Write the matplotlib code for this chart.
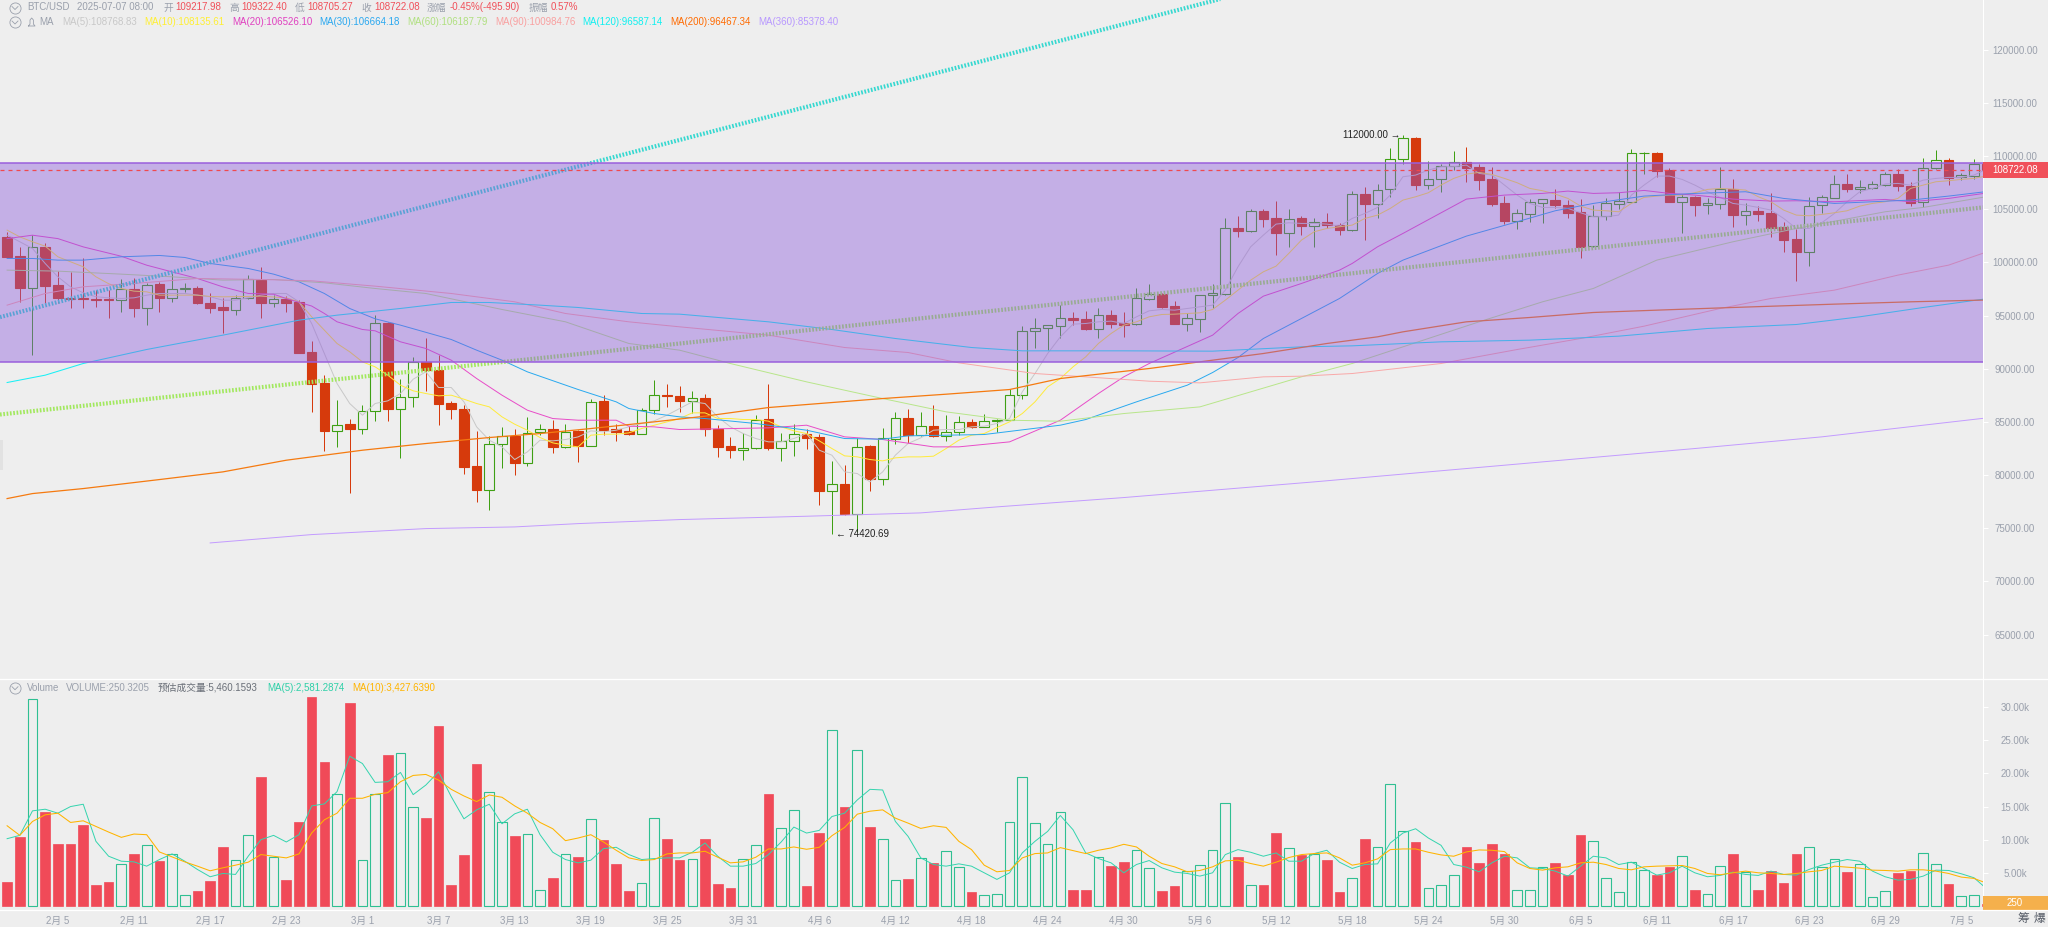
import matplotlib
matplotlib.use('Agg')
import matplotlib.pyplot as plt
from matplotlib.lines import Line2D
from matplotlib.patches import Rectangle

plt.rcParams['font.family'] = ['Liberation Sans', 'Noto Sans CJK SC', 'DejaVu Sans']

# one row per ten days, 2025-02-01 to 2025-07-07
opens = [102410, 100590, 97610, 101470, 97860, 96610, 96610, 96520, 96520, 96500,
         97455, 95760, 97960, 96610, 97500, 97580, 96170, 95790, 95570, 96610,
         98330, 96140, 96550, 96300, 91560, 88645, 84190, 84790, 84320, 86075,
         94320, 86260, 87300, 90680, 89930, 86795, 86260, 80840, 78640, 82970,
         83720, 81150, 84035, 84380, 82650, 84130, 82750, 86950, 84290, 84130,
         83910, 86170, 87580, 87485, 86980, 87298, 84382, 82720, 82406, 82594,
         85260, 82594, 83221, 83911, 83566, 78486, 79207, 76385, 82720, 79677,
         83441, 85354, 83786, 84664, 83723, 84099, 85040, 84570, 85103, 85228,
         87578, 93505, 93787, 94037, 94728, 94634, 93756, 95073, 94290, 94163,
         96546, 97017, 95857, 94226, 94696, 96892, 97049, 103226, 102913, 104794,
         104136, 102787, 104136, 103446, 103760, 103477, 103070, 106425, 105516, 106864,
         109687, 111662, 107303, 107805, 109028, 109404, 108965, 107805, 105547, 103916,
         104575, 105609, 105892, 105390, 104700, 101500, 104355, 105516, 105704, 110250,
         110251, 108683, 105704, 106112, 105359, 105516, 106864, 104450, 104857, 104606,
         103289, 102160, 100937, 105359, 106080, 107366, 106950, 107021, 107272, 108338,
         107178, 105641, 108840, 109624, 107993, 108150, 109218]
highs = [102880, 101470, 102570, 101780, 99210, 99120, 100370, 97390, 97390, 98400,
         98490, 98080, 98200, 98960, 98020, 97770, 97080, 96610, 96920, 98800,
         99590, 96920, 96800, 96500, 92630, 89400, 87050, 85230, 86640, 95040,
         94420, 89020, 91060, 92850, 91280, 86950, 86575, 84130, 83690, 84540,
         84380, 85420, 84760, 85160, 84850, 84230, 87140, 87580, 84850, 84600,
         86270, 88900, 88610, 88360, 87890, 87612, 84695, 83598, 83974, 85636,
         88613, 84005, 84789, 84319, 83900, 81308, 80932, 83535, 82800, 84413,
         85981, 86200, 85918, 86577, 85636, 85573, 85250, 85730, 85320, 88140,
         94006, 94728, 94070, 95982, 95292, 95417, 95668, 95512, 95320, 97550,
         97958, 97080, 96327, 95260, 96950, 98000, 104136, 104355, 104983, 104983,
         105766, 105014, 104350, 104130, 104605, 103720, 106707, 107115, 107366, 110753,
         111944, 111756, 109498, 109300, 110471, 110815, 109300, 108934, 106237, 104983,
         105923, 105980, 106864, 105890, 105986, 105390, 106017, 106645, 110627, 110380,
         110340, 108840, 106420, 106230, 106080, 108965, 107805, 105547, 105296, 106488,
         103800, 103101, 106112, 106331, 108181, 108307, 107742, 107650, 108530, 108746,
         107523, 109843, 110565, 109812, 108370, 109718, 109322]
lows = [100500, 96300, 91280, 96140, 96140, 95760, 95670, 95820, 94820, 95350,
        94880, 94160, 95350, 96300, 97240, 96080, 95260, 93410, 95040, 96550,
        94820, 95820, 95350, 91440, 85950, 82280, 82655, 78330, 83850, 85100,
        85100, 81590, 86420, 87930, 84700, 85290, 80085, 77510, 76730, 80710,
        80000, 80870, 83750, 82090, 82550, 81210, 82700, 83810, 83220, 83810,
        83850, 85700, 86360, 85920, 85860, 83660, 81716, 81653, 81402, 82500,
        82343, 81340, 81810, 82437, 77169, 74421, 76260, 74660, 78517, 79082,
        82908, 83033, 83720, 83630, 83221, 83786, 84450, 84510, 84068, 85150,
        87200, 91937, 91750, 92940, 94100, 93690, 92910, 93850, 93003, 94100,
        96480, 95760, 94190, 93567, 93442, 95670, 96980, 102348, 102850, 103352,
        100718, 101470, 102600, 101470, 103195, 102600, 103000, 102100, 104198, 106174,
        109216, 106801, 106895, 106645, 108683, 107523, 106801, 105296, 103603, 103132,
        103822, 103697, 105077, 104198, 100373, 101440, 103979, 104983, 105640, 108307,
        108056, 105640, 102787, 104355, 104512, 104983, 103352, 103509, 103885, 102411,
        100937, 98240, 99683, 104669, 106020, 106613, 106519, 106950, 107200, 106707,
        105296, 105171, 108770, 107272, 107742, 107837, 108705]
closes = [100530, 97610, 101470, 97800, 96610, 96520, 96520, 96450, 96450, 97455,
          95730, 97830, 96610, 97520, 97580, 96140, 95730, 95570, 96610, 98400,
          96140, 96550, 96230, 91500, 88614, 84160, 84757, 84350, 86075, 94260,
          86230, 87300, 90680, 89930, 86730, 86230, 80774, 78580, 82970, 83720,
          81150, 84000, 84380, 82650, 84100, 82750, 86920, 84220, 84035, 83880,
          86170, 87580, 87420, 86980, 87265, 84382, 82657, 82406, 82594, 85228,
          82563, 83221, 83911, 83503, 78486, 79176, 76322, 82657, 79615, 83472,
          85354, 83786, 84664, 83692, 84099, 85009, 84507, 85103, 85228, 87578,
          93505, 93787, 94070, 94728, 94600, 93756, 95073, 94195, 94132, 96610,
          97017, 95825, 94226, 94728, 96892, 97080, 103195, 102944, 104794, 104105,
          102787, 104105, 103446, 103760, 103510, 103070, 106394, 105516, 106832, 109687,
          111662, 107303, 107805, 109028, 109404, 108903, 107742, 105484, 103916, 104606,
          105641, 105923, 105359, 104638, 101470, 104387, 105547, 105735, 110251, 110282,
          108620, 105704, 106112, 105359, 105547, 106864, 104450, 104857, 104575, 103258,
          102097, 100937, 105328, 106112, 107334, 106895, 107060, 107334, 108338, 107147,
          105609, 108840, 109592, 107962, 108181, 109216, 108722]
volumes = [3550, 10400, 31250, 14200, 9400, 9350, 12250, 3150, 3550, 6350,
           7800, 9200, 6850, 7850, 1700, 2300, 3700, 8950, 7000, 10700,
           19400, 7400, 3900, 12700, 31600, 21700, 16850, 30700, 6950, 16850,
           22750, 23150, 14900, 13300, 27200, 3150, 7700, 21400, 17150, 12650,
           10600, 10900, 2350, 4150, 7850, 7450, 13100, 10000, 6400, 2300,
           3500, 13200, 10150, 6950, 7050, 10100, 3250, 2650, 7100, 9200,
           16900, 11750, 14550, 2950, 11050, 26600, 14950, 23600, 11950, 10100,
           3950, 4000, 7250, 6550, 8300, 5900, 2050, 1700, 1850, 12650,
           19500, 12500, 9350, 14150, 2400, 2400, 7400, 6100, 6700, 8450,
           5750, 2200, 2950, 5300, 6250, 8450, 15500, 7450, 3200, 3150,
           11050, 8750, 7750, 7850, 6950, 2050, 4250, 10150, 8900, 18350,
           11300, 9700, 2750, 3100, 4700, 8950, 6550, 9400, 7900, 2450,
           2450, 5900, 6550, 4600, 10750, 9800, 4250, 2150, 6650, 5450,
           4650, 5800, 7550, 2350, 1850, 6050, 7850, 5050, 2350, 5200,
           3400, 7900, 8900, 5900, 7100, 5050, 6350, 1400, 2300, 4900,
           5300, 8000, 6350, 3250, 1550, 1700, 250]

ma5 = [102570, 101940, 101313, 99900, 98650, 97700, 97140, 96770, 96670, 96610,
       96670, 96920, 97080, 97080, 97080, 96920, 96770, 96450, 96450, 96670,
       96920, 97080, 97080, 96300, 94260, 91435, 88614, 86732, 85635, 86732,
       86984, 87673, 89020, 89712, 88238, 88238, 86890, 84537, 83283, 82655,
       81464, 82185, 83283, 83220, 83345, 83596, 84160, 84067, 84224, 84537,
       84851, 85101, 85635, 86262, 86890, 86734, 85480, 84538, 83911, 83441,
       83127, 83127, 83441, 83911, 82343, 81873, 80305, 80148, 79364, 80305,
       81873, 82970, 83504, 84225, 84288, 84288, 84538, 84601, 84852, 85322,
       87829, 89553, 91435, 93003, 94195, 94258, 94414, 94477, 94258, 94885,
       95449, 95574, 95512, 95668, 95825, 95982, 97393, 99589, 101470, 102568,
       103603, 103728, 103665, 103665, 103603, 103415, 104136, 104605, 105171, 106331,
       108056, 108212, 108683, 108996, 108996, 109153, 108369, 108212, 107272, 106331,
       105547, 105171, 105171, 105077, 104669, 104293, 104293, 104450, 106331, 107272,
       108119, 108119, 107805, 107272, 106644, 106112, 105547, 105390, 105171, 104920,
       104136, 103195, 103195, 103728, 104606, 105704, 106644, 106958, 107366, 107429,
       107272, 107742, 107899, 107993, 107993, 108212, 108769]
ma10 = [103038, 102400, 101940, 101532, 100530, 100060, 99588, 98647, 98000, 97550,
        97300, 97236, 96922, 96922, 96922, 96922, 96800, 96765, 96780, 96800,
        96828, 96750, 96670, 96300, 94886, 93632, 92377, 91593, 90652, 90182,
        89398, 88457, 87924, 87673, 87453, 87516, 87140, 86732, 86419, 85478,
        84788, 84224, 83534, 83032, 82812, 82656, 83754, 83847, 83847, 83973,
        84380, 84694, 85008, 85321, 85855, 85855, 85322, 85322, 85228, 85228,
        85072, 84539, 84162, 83911, 83221, 82500, 81810, 81716, 81465, 81340,
        81622, 81716, 81716, 81779, 82500, 83284, 83754, 83911, 84476, 85009,
        85790, 86888, 88299, 89083, 90181, 91121, 92376, 93317, 94100, 94414,
        94885, 95104, 95136, 95198, 95261, 95574, 96453, 97393, 98334, 99118,
        99651, 100843, 102097, 102882, 103195, 103352, 103509, 104136, 104450, 105077,
        105861, 106174, 106551, 107272, 107899, 108307, 108463, 108275, 107899, 107491,
        106958, 106738, 106425, 106017, 105296, 104920, 104857, 104763, 105547, 106112,
        106237, 106331, 106331, 106551, 106864, 106958, 106895, 106801, 106174, 105704,
        104920, 104450, 104387, 104512, 104669, 104857, 105296, 105547, 105704, 106017,
        106958, 107272, 107585, 107680, 107805, 107899, 108135]

# slower averages are read at their bends only
ma20_x = [0, 2, 4, 6, 9, 11, 13, 15, 17, 19, 21, 22, 24, 25, 26, 28, 29, 31, 33, 35, 37, 39, 41, 43, 45, 48, 49, 51, 53,
          60, 63, 66, 69, 73, 75, 79, 83, 86, 88, 90, 95, 97, 99, 102, 105, 106, 108, 110, 115, 118, 121, 123, 125, 127,
          129, 131, 133, 136, 139, 141, 144, 148, 150, 153, 156]
ma20_y = [102240, 102560, 102240, 101460, 100580, 99740, 99110, 98490, 97700, 97080, 97010, 96600, 95900, 95200, 94416,
          93694, 93569, 92534, 91907, 90809, 89084, 87516, 86105, 85321, 85164, 85164, 84600, 84537, 84287,
          84444, 84695, 83598, 83347, 82657, 82657, 83127, 85163, 87672, 89240, 90494, 93160, 95198, 96829, 98020,
          99275, 99902, 101470, 102725, 105955, 106331, 106488, 106707, 106488, 106551, 106770, 106488, 106331,
          105955, 105767, 105798, 105704, 105923, 105704, 106017, 106526]
ma30_x = [0, 2, 4, 6, 9, 12, 14, 16, 19, 21, 23, 25, 27, 29, 31, 35, 37, 39, 41, 45, 48, 49, 51, 53, 55, 59, 63, 66, 69,
          71, 77, 83, 85, 89, 93, 95, 97, 99, 105, 108, 110, 115, 119, 122, 125, 129, 133, 137, 140, 144, 147, 150, 153, 156]
ma30_y = [100372, 100372, 100215, 100215, 100529, 100654, 100466, 99902, 99431, 98898, 98177, 97080, 95668, 94700, 94102,
          92753, 91750, 90809, 89711, 88050, 86889, 86262, 85792, 85478, 85321, 84852, 84225, 83441, 83378,
          83692, 83817, 84695, 85226, 86888, 88456, 89647, 91058, 92846, 96610, 98961, 100216, 102474, 103822, 104857,
          105547, 106237, 106488, 106645, 106017, 105547, 105704, 105861, 106237, 106664]
ma60_x = [0, 4, 9, 13, 17, 21, 25, 29, 33, 39, 44, 49, 53, 57, 63, 69, 74, 79, 83, 88, 94, 98, 102, 106, 108, 110, 116,
          121, 125, 130, 136, 141, 148, 151, 156]
ma60_y = [99275, 99180, 98898, 98647, 98333, 98396, 98083, 97550, 97079, 95576, 94416, 92377, 91747, 90494, 88769, 87201,
          85948, 85163, 85069, 85790, 86417, 87829, 89240, 90496, 91278, 92062, 94414, 96296, 97550, 100216, 101940,
          103195, 104763, 105171, 106187]
ma90_x = [0, 3, 6, 10, 15, 20, 24, 29, 35, 40, 44, 49, 53, 60, 66, 71, 75, 81, 85, 90, 94, 99, 102, 106, 113, 119, 124,
          129, 135, 139, 144, 149, 153, 156]
ma90_y = [95982, 97080, 97707, 98020, 98490, 98396, 98271, 97769, 97079, 96296, 95198, 94414, 93944, 93160, 91999, 91529,
          90557, 89553, 89240, 88832, 88675, 89240, 89303, 89553, 90494, 91811, 92846, 94006, 95668, 96610, 97393,
          98805, 99746, 100984]
ma120_x = [0, 3, 6, 11, 17, 23, 26, 31, 35, 38, 42, 45, 50, 53, 60, 65, 70, 76, 80, 88, 95, 102, 106, 113, 120, 127, 134,
           141, 146, 151, 156]
ma120_y = [88708, 89398, 90496, 91813, 93161, 94570, 95041, 95670, 96232, 96232, 95982, 95763, 95198, 95135, 94414, 93693,
           92846, 91999, 91686, 91686, 91655, 92062, 92156, 92533, 92690, 93066, 93787, 94163, 94885, 95763, 96587]
ma200_x = [0, 2, 6, 12, 17, 22, 28, 33, 38, 42, 46, 51, 55, 60, 69, 74, 79, 83, 86, 90, 95, 99, 104, 108, 110, 115, 120,
           125, 130, 136, 144, 150, 156]
ma200_y = [77795, 78265, 78736, 79582, 80304, 81401, 82342, 82970, 83534, 83910, 84380, 85008, 85540, 86355, 87201, 87609,
           88048, 89083, 89490, 90024, 90808, 91435, 92376, 93003, 93473, 94414, 94822, 95292, 95512, 95763, 96076,
           96296, 96467]
ma360_x = [16, 24, 33, 40, 45, 53, 63, 72, 78, 88, 103, 118, 133, 143, 156]
ma360_y = [73624, 74408, 74972, 75129, 75441, 75820, 76134, 76448, 77012, 77890, 79364, 80932, 82500, 83597, 85378]

vol_ma5 = [10150, 10650, 14350, 14600, 14000, 15000, 15350, 9750, 7500, 6750,
           6650, 6000, 7000, 7850, 6750, 5500, 4400, 4900, 4750, 7500,
           10000, 10650, 9650, 10750, 15100, 15400, 17250, 22600, 21500, 18650,
           18750, 20150, 16800, 18250, 20250, 16500, 13150, 14500, 15350, 12400,
           13900, 14600, 10750, 8100, 7000, 6500, 6900, 8650, 8850, 7750,
           7000, 7150, 7250, 7250, 8100, 9500, 7500, 6000, 6000, 6400,
           7750, 9650, 11900, 11000, 11400, 13500, 14000, 16000, 17600, 17500,
           12750, 10500, 7250, 6250, 6000, 6350, 6000, 5000, 4000, 5000,
           8000, 9750, 11250, 13650, 11500, 8000, 7150, 6500, 5000, 6250,
           6850, 5750, 5100, 4900, 4500, 5000, 7750, 8500, 8100, 7500,
           8000, 6750, 6750, 7900, 8400, 6600, 5650, 6250, 6350, 9500,
           11000, 11650, 10250, 9150, 6250, 5850, 5150, 6500, 7500, 7250,
           5750, 5650, 5250, 4500, 6000, 7500, 7250, 6250, 6600, 5650,
           4650, 5000, 6000, 5000, 4400, 4600, 5100, 4750, 4600, 5250,
           4750, 4650, 5500, 6150, 6600, 7000, 6750, 5250, 4400, 3900,
           4000, 4500, 5400, 5350, 4850, 4250, 2581]
vol_ma10 = [12100, 10650, 12750, 13750, 14000, 12600, 12850, 12000, 11150, 10350,
            10850, 10750, 8150, 7400, 6650, 6000, 5300, 5750, 6150, 6600,
            7750, 7500, 7250, 7850, 11000, 13000, 14000, 16250, 16250, 16850,
            17100, 18750, 19700, 19850, 19000, 17600, 16600, 15750, 16750, 16400,
            15100, 14000, 12600, 11650, 9850, 10250, 10750, 9650, 8400, 7250,
            6850, 7000, 7850, 8000, 8000, 8250, 7350, 6500, 6650, 7350,
            8600, 8600, 8900, 8550, 8850, 10600, 11850, 13850, 14300, 14500,
            13250, 12500, 11700, 12100, 11850, 9750, 8500, 6150, 5150, 5350,
            7250, 7900, 8000, 8800, 8350, 7900, 8400, 8750, 9300, 8900,
            7500, 6400, 5900, 5150, 5350, 5900, 6800, 6900, 6400, 6000,
            6600, 7300, 7750, 7900, 8000, 7250, 6150, 6500, 7100, 8500,
            8600, 8600, 8100, 7700, 7500, 8150, 8450, 8400, 8200, 6500,
            5650, 5400, 5750, 5900, 6500, 6600, 6250, 5650, 5450, 5900,
            6000, 6050, 6100, 5650, 4900, 4700, 5000, 5250, 5000, 4900,
            4750, 4900, 5150, 5350, 6000, 5850, 5700, 5400, 5350, 5250,
            5450, 5450, 5250, 4900, 4350, 4150, 3428]

# drawn lines that run beyond the candles
trend_up_x = [-0.56, 96.2]
trend_up_y = [94855, 124957]
trend_mid_x = [-0.56, 155.7]
trend_mid_y = [85700, 105170]
band_low = 90600
band_high = 109310
last_price = 108722.08

date_pos = list(range(4, 155, 6))
date_labels = ['2月 5', '2月 11', '2月 17', '2月 23', '3月 1', '3月 7', '3月 13', '3月 19', '3月 25', '3月 31',
               '4月 6', '4月 12', '4月 18', '4月 24', '4月 30', '5月 6', '5月 12', '5月 18', '5月 24', '5月 30',
               '6月 5', '6月 11', '6月 17', '6月 23', '6月 29', '7月 5']
price_ticks = list(range(65000, 120001, 5000))
vol_ticks = [5000, 10000, 15000, 20000, 25000, 30000]

W, H = 2048, 927
BG = '#eeeeee'
GREY = '#9aa0ac'
RED = '#f0505a'


def px(x, y):
    return x / W, 1 - y / H


def label(x, y, s, color=GREY, **kw):
    fig.text(x / W, 1 - y / H, s, color=color, fontsize=7, va='center', **kw)


def collapse_icon(x, y):
    fx, fy = px(x, y)
    fig.add_artist(Line2D([fx], [fy], marker='o', ms=8, mfc='none', mec=GREY, mew=0.6))
    xs, ys = zip(px(x - 3, y - 1), px(x, y + 2), px(x + 3, y - 1))
    fig.add_artist(Line2D(xs, ys, color=GREY, lw=0.6))


fig = plt.figure(figsize=(W / 100, H / 100), dpi=100, facecolor=BG)
right = 1983
split = 679.3
bottom = 910
ax = fig.add_axes([0, 1 - split / H, right / W, split / H], facecolor=BG)
axv = fig.add_axes([0, 1 - bottom / H, right / W, (bottom - split) / H], facecolor=BG)

x = list(range(len(closes)))
up_c = '#3fa014'
down_c = '#d63a0c'
for i in x:
    up = closes[i] >= opens[i]
    c = up_c if up else down_c
    ax.vlines(i, lows[i], highs[i], color=c, lw=0.72, zorder=2)
    low_b, high_b = min(opens[i], closes[i]), max(opens[i], closes[i])
    ax.bar(i, high_b - low_b, 0.76, bottom=low_b, facecolor=BG if up else down_c, edgecolor=c, lw=0.8, zorder=3)

ax.plot(x, ma5, color='#c8c8c8', lw=0.7, zorder=4)
ax.plot(x, ma10, color='#ffeb3b', lw=0.7, zorder=4)
ax.plot(ma20_x, ma20_y, color='#e84cc8', lw=0.7, zorder=4)
ax.plot(ma30_x, ma30_y, color='#29a9ef', lw=0.7, zorder=4)
ax.plot(ma60_x, ma60_y, color='#b8e68a', lw=0.7, zorder=4)
ax.plot(ma90_x, ma90_y, color='#f9a8a8', lw=0.7, zorder=4)
ax.plot(ma120_x, ma120_y, color='#19f0f5', lw=0.75, zorder=4)
ax.plot(ma200_x, ma200_y, color='#f57a10', lw=0.9, zorder=4)
ax.plot(ma360_x, ma360_y, color='#c39bff', lw=0.7, zorder=4)
ax.plot(trend_up_x, trend_up_y, color='#35d8d0', lw=3.0, ls=(0, (0.4, 0.4)), zorder=4)
ax.plot(trend_mid_x, trend_mid_y, color='#a2e85e', lw=3.0, ls=(0, (0.4, 0.4)), zorder=4)

# the band sits on top and mutes everything under it
ax.axhspan(band_low, band_high, facecolor='#8c58db', alpha=0.42, lw=0, zorder=5)
ax.axhline(band_low, color='#9a5fdc', lw=1.1, zorder=6)
ax.axhline(band_high, color='#9a5fdc', lw=1.1, zorder=6)
ax.axhline(last_price, color='#f0484e', lw=0.9, ls=(0, (3.2, 3.2)), zorder=7)

ax.text(109.8, 111975, '112000.00 →', color='#222222', fontsize=7, ha='right', va='center', zorder=8)
ax.text(65.3, 74460, '← 74420.69', color='#222222', fontsize=7, ha='left', va='center', zorder=8)

ax.set_xlim(-0.56, 155.71)
ax.set_ylim(60801, 124675)
ax.set_xticks([])
ax.yaxis.tick_right()
ax.set_yticks(price_ticks)
ax.set_yticklabels(['%.2f' % p for p in price_ticks], ha='center')
ax.tick_params(axis='y', length=3.6, width=0.8, color='#ffffff', labelcolor=GREY, labelsize=7, pad=19.4)
for s in ['top', 'left', 'bottom']:
    ax.spines[s].set_visible(False)
ax.spines['right'].set_color('#ffffff')

# volume panel
for i in x:
    if closes[i] >= opens[i]:
        axv.bar(i, volumes[i], 0.76, facecolor=BG, edgecolor='#2fbf92', lw=0.8, zorder=2)
    else:
        axv.bar(i, volumes[i], 0.76, facecolor='#f04a58', edgecolor='#f04a58', lw=0.5, zorder=2)
axv.plot(x, vol_ma5, color='#33d4ae', lw=0.7, zorder=3)
axv.plot(x, vol_ma10, color='#ffb400', lw=0.75, zorder=3)
axv.set_xlim(-0.56, 155.71)
axv.set_ylim(-619, 34215)
axv.yaxis.tick_right()
axv.set_yticks(vol_ticks)
axv.set_yticklabels(['%.2fk' % (v / 1000) for v in vol_ticks], ha='center')
axv.tick_params(axis='y', length=3.6, width=0.8, color='#ffffff', labelcolor=GREY, labelsize=7, pad=19.4)
axv.set_xticks(date_pos)
axv.set_xticklabels(date_labels)
axv.tick_params(axis='x', length=0, labelcolor=GREY, labelsize=7, pad=4)
axv.spines['left'].set_visible(False)
for s in ['top', 'bottom', 'right']:
    axv.spines[s].set_color('#ffffff')

# separators run to the edge of the picture
for yy in [split, bottom]:
    xs, ys = zip(px(0, yy), px(W, yy))
    fig.add_artist(Line2D(xs, ys, color='#ffffff', lw=0.9))

# price and volume tags
fig.add_artist(Rectangle(px(right, 178), 65 / W, 16 / H, facecolor=RED, lw=0))
label(2015.5, 170, '108722.08', color='#ffffff', ha='center', zorder=5)
fig.add_artist(Rectangle(px(right, 910), 65 / W, 14 / H, facecolor='#f5b04c', lw=0))
label(2015, 903, '250', color='#ffffff', ha='center', zorder=5)
fig.add_artist(Rectangle(px(0, 470), 2.5 / W, 30 / H, facecolor='#e2e2e2', lw=0))
fig.text(2023 / W, 1 - 919 / H, '筹', color='#555b66', fontsize=8.5, ha='center', va='center')
fig.text(2040 / W, 1 - 919 / H, '爆', color='#555b66', fontsize=8.5, ha='center', va='center')

# header rows
collapse_icon(15, 7.5)
label(26.8, 7.5, 'BTC/USD')
label(77, 7.5, '2025-07-07 08:00')
for xt, name, xv, val in [(163, '开', 175.4, '109217.98'), (229, '高', 241.5, '109322.40'),
                          (294.6, '低', 307.6, '108705.27'), (361.6, '收', 374, '108722.08'),
                          (427, '涨幅', 449.6, '-0.45%(-495.90)'), (529, '振幅', 551, '0.57%')]:
    label(xt, 7.5, name)
    label(xv, 7.5, val, color=RED)

collapse_icon(15, 22)
bell = [px(28.5, 26), px(30, 24), px(30, 20), px(31.7, 18), px(33.4, 20), px(33.4, 24), px(35, 26), px(28.5, 26)]
fig.add_artist(Line2D([b[0] for b in bell], [b[1] for b in bell], color=GREY, lw=0.6))
label(38.8, 22, 'MA')
for xt, txt, col in [(62.5, 'MA(5):108768.83', '#c8c8c8'), (144.6, 'MA(10):108135.61', '#ffee33'),
                     (232.6, 'MA(20):106526.10', '#e040c0'), (319.6, 'MA(30):106664.18', '#2aa8f0'),
                     (407.6, 'MA(60):106187.79', '#b0e080'), (495.5, 'MA(90):100984.76', '#f9a0a0'),
                     (582.7, 'MA(120):96587.14', '#10f0f0'), (670.7, 'MA(200):96467.34', '#ff6a00'),
                     (758.3, 'MA(360):85378.40', '#b898ff')]:
    label(xt, 22, txt, color=col)

collapse_icon(15, 687.7)
label(26.8, 687.7, 'Volume')
label(66, 687.7, 'VOLUME:250.3205')
label(157.6, 687.7, '预估成交量:5,460.1593', color='#6a6f78')
label(267, 687.7, 'MA(5):2,581.2874', color='#2fd0a8')
label(351.8, 687.7, 'MA(10):3,427.6390', color='#ffb400')

fig.savefig('out.png', dpi=100, facecolor=BG)
